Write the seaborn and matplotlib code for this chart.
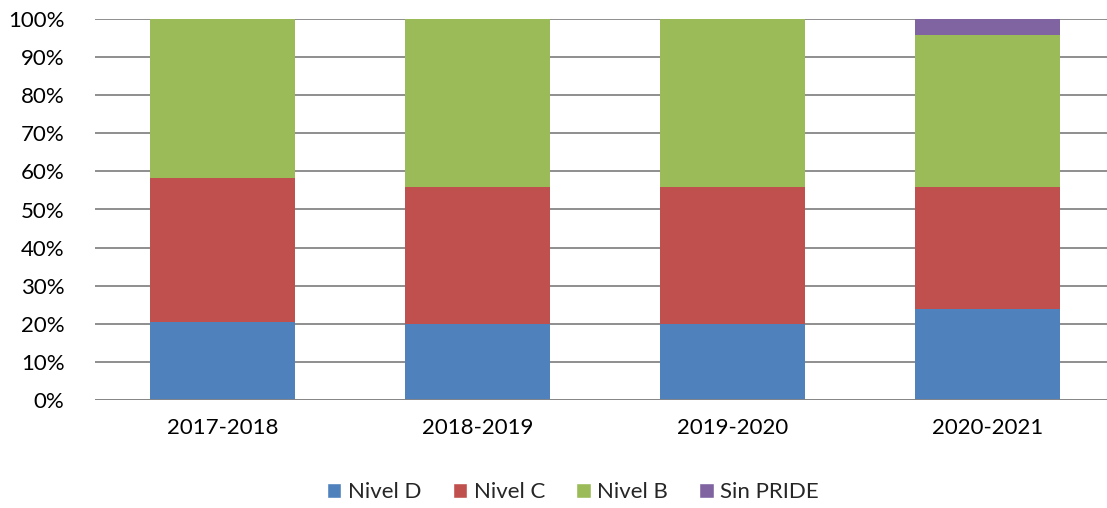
import numpy as np
import pandas as pd
import matplotlib
matplotlib.use("Agg")
import matplotlib.pyplot as plt
import seaborn as sns
from matplotlib.patches import Patch
from matplotlib.ticker import PercentFormatter

# Data (percent of total per period)
periods = ['2017-2018', '2018-2019', '2019-2020', '2020-2021']
nivel_d = [20.6, 19.9, 19.9, 23.8]
nivel_c = [37.6, 36.0, 36.0, 32.1]
nivel_b = [41.8, 44.1, 44.1, 39.9]
sin_pride = [0.0, 0.0, 0.0, 4.2]

series_names = ['Nivel D', 'Nivel C', 'Nivel B', 'Sin PRIDE']
colors = ['#4F81BD', '#C0504D', '#9BBB59', '#8064A2']

sns.set_style('white')
plt.rcParams['font.family'] = ['Lato', 'DejaVu Sans']

df = pd.DataFrame({
    'period': periods,
    'Nivel D': nivel_d,
    'Nivel C': nivel_c,
    'Nivel B': nivel_b,
    'Sin PRIDE': sin_pride,
})

# cumulative stacks, drawn from the tallest down so each layer shows
cum = df[series_names].cumsum(axis=1)
cum['period'] = df['period']

fig = plt.figure(figsize=(11.07, 5.08), dpi=100)
ax = fig.add_axes([95 / 1107, 108 / 508, 1012 / 1107, 381 / 508])

for name, color in reversed(list(zip(series_names, colors))):
    sns.barplot(data=cum, x='period', y=name, color=color, width=0.57,
                saturation=1, linewidth=0, ax=ax, zorder=3)

ax.set_ylim(0, 100)
ax.set_xlim(-0.5, 3.47)
ax.set_yticks(np.arange(0, 101, 10))
ax.yaxis.set_major_formatter(PercentFormatter(decimals=0))
ax.grid(axis='y', color='#868686', linewidth=1.3, zorder=0)
ax.set_axisbelow(True)
for side in ['top', 'right', 'left', 'bottom']:
    ax.spines[side].set_visible(False)
ax.axhline(0, color='#868686', linewidth=1.3, zorder=4)
ax.tick_params(axis='both', length=0, labelsize=16, colors='black')
ax.tick_params(axis='y', pad=22)
ax.tick_params(axis='x', pad=13)
ax.set_xlabel('')
ax.set_ylabel('')

handles = [Patch(facecolor=c, label=n) for n, c in zip(series_names, colors)]
fig.legend(handles=handles, loc='center', bbox_to_anchor=(573 / 1107, 1 - 492 / 508),
           ncol=4, frameon=False, fontsize=16, handlelength=0.65, handleheight=0.65,
           handletextpad=0.3, columnspacing=1.4)

fig.savefig('out.png', dpi=100)
